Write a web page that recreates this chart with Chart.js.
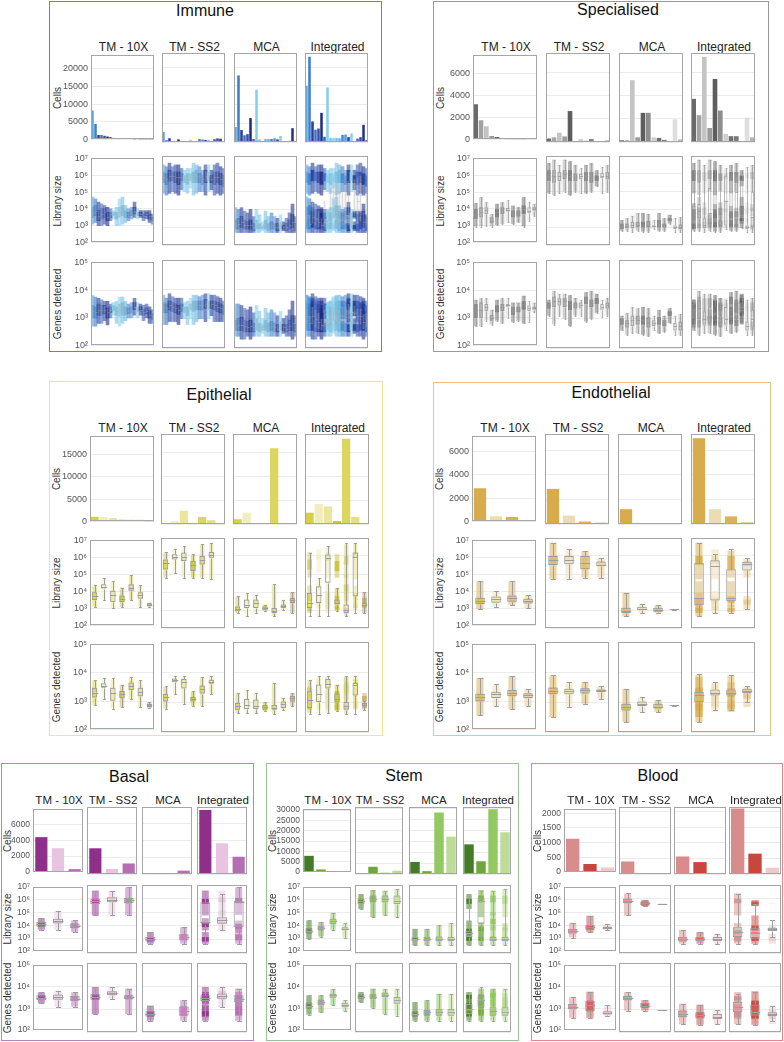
<!DOCTYPE html>
<html><head><meta charset="utf-8">
<script src="https://cdn.jsdelivr.net/npm/chart.js@4.4.1/dist/chart.umd.min.js"></script>
<style>
html,body{margin:0;padding:0;background:#fff;width:784px;height:1042px;overflow:hidden;font-family:"Liberation Sans",Arial,sans-serif;}
#root{position:relative;width:784px;height:1042px;}
.panel{position:absolute;box-sizing:border-box;border:1.5px solid #999;}
.t{position:absolute;white-space:nowrap;color:#111;transform:translate(-50%,-50%);line-height:1;}
.ax{position:absolute;white-space:nowrap;color:#333;transform:translate(-50%,-50%) rotate(-90deg);line-height:1;}
canvas{position:absolute;}
</style></head><body><div id="root"></div>
<script>
// ---------- shared labels ----------
const DATASET_NAMES = ['TM - 10X', 'TM - SS2', 'MCA', 'Integrated'];
const ROW_TITLES = ['Cells', 'Library size', 'Genes detected'];
const LIB_TICKS = [2,3,4,5,6,7];
const GENES_TICKS = [2,3,4,5];
const SUPERSCRIPT_LABELS = {2:'10²',3:'10³',4:'10⁴',5:'10⁵',6:'10⁶',7:'10⁷'};
// box stats are [min, q1, median, q3, max] as log10 values

// ---------- Immune ----------
const immune_colors = ['#63a6dc','#3b7fd0','#2c3e96','#4d6fc2','#3650aa','#202c84','#3c66bc','#85cfea','#7dc4e4','#92d3ee','#79bfe4','#6fb6e0','#4a84cc','#5c98d8','#2f3f97','#8dd2ec','#283a8e','#4063bb','#3550ac','#26348c','#4573c2'];
const immune_cells_ticks = [0,5000,10000,15000,20000];
const immune_cells_tm10x = [8200,4400,1300,1300,1100,900,700,500,350,300,300,300,300,300,50,50,30,30,30,30,20];
const immune_cells_tmss2 = [2700,500,1000,100,200,700,100,100,50,600,0,0,800,700,550,650,70,770,970,870,180];
const immune_cells_mca = [4000,17800,3200,1800,2100,6400,800,14000,700,200,800,800,800,1000,700,1600,100,100,300,3700,300];
const immune_cells_integrated = [15000,22800,5500,3300,3600,7800,1400,14600,1100,1100,1100,1000,1900,2000,1300,2300,200,900,1300,4600,500];
const immune_lib_tm10x = [[3.1,3.5,3.8,4.1,4.7],[3.2,3.6,3.9,4.2,4.6],[3.0,3.3,3.6,3.9,4.4],[3.0,3.4,3.7,4.0,4.3],[3.1,3.5,3.8,4.0,4.2],[3.0,3.3,3.5,3.8,4.1],[3.3,3.5,3.7,3.8,4.0],[3.4,3.6,3.7,3.8,3.9],[3.0,3.4,3.6,3.8,4.1],[3.0,3.5,3.8,4.1,4.6],[3.1,3.6,3.9,4.2,4.7],[3.2,3.5,3.7,3.9,4.2],[3.3,3.5,3.6,3.8,4.0],[3.4,3.6,3.8,3.9,4.1],[3.5,3.7,3.9,4.1,4.4],[3.4,3.6,3.7,3.8,4.0],[3.5,3.6,3.7,3.8,3.9],[3.3,3.5,3.6,3.7,3.9],[3.4,3.6,3.7,3.8,3.9],[3.2,3.4,3.6,3.7,3.9],[3.1,3.3,3.4,3.5,3.7]];
const immune_lib_tmss2 = [[4.9,5.5,5.8,6.1,6.5],[4.8,5.4,5.7,6.0,6.4],[4.9,5.6,5.9,6.2,6.6],[5.0,5.6,5.9,6.1,6.4],[4.9,5.5,5.8,6.1,6.5],[4.8,5.4,5.8,6.1,6.5],[5.1,5.6,5.8,6.0,6.3],[5.0,5.5,5.7,5.9,6.2],[4.9,5.4,5.7,6.0,6.3],[5.2,5.6,5.8,6.0,6.3],[4.8,5.5,5.8,6.1,6.6],[4.9,5.5,5.9,6.2,6.5],[5.0,5.5,5.8,6.0,6.4],[5.0,5.4,5.7,5.9,6.2],[4.8,5.5,5.9,6.2,6.5],[5.0,5.6,5.9,6.1,6.5],[5.1,5.5,5.7,5.9,6.2],[4.8,5.4,5.8,6.1,6.5],[4.9,5.5,5.8,6.1,6.6],[4.8,5.4,5.7,6.0,6.4],[4.9,5.3,5.6,5.9,6.3]];
const immune_lib_mca = [[2.7,2.9,3.1,3.4,4.1],[2.7,2.9,3.2,3.5,4.0],[2.7,3.0,3.3,3.6,4.1],[2.7,2.9,3.1,3.4,3.9],[2.7,2.9,3.1,3.3,3.8],[2.7,2.9,3.1,3.4,4.0],[2.7,2.8,3.0,3.2,3.6],[2.7,2.9,3.1,3.4,4.0],[2.7,2.9,3.0,3.2,3.7],[2.8,2.9,3.0,3.1,3.3],[2.7,2.9,3.1,3.4,3.9],[2.7,2.8,3.0,3.2,3.6],[2.7,2.9,3.1,3.3,3.8],[2.7,2.9,3.0,3.2,3.6],[2.7,2.8,3.0,3.2,3.5],[2.7,2.9,3.1,3.3,3.7],[2.8,2.9,3.0,3.1,3.3],[2.7,2.8,3.0,3.2,3.5],[2.7,2.9,3.1,3.4,3.8],[2.7,3.0,3.3,3.7,4.3],[2.7,2.8,3.0,3.2,3.6]];
const immune_lib_integrated = [[2.7,3.3,3.7,4.2,6.5],[2.7,3.0,3.2,3.7,6.4],[2.7,3.2,3.6,4.5,6.6],[2.7,3.1,3.5,4.2,6.4],[2.7,3.0,3.3,3.9,6.5],[2.7,2.9,3.1,3.5,6.5],[2.7,3.0,3.4,4.5,6.3],[2.7,2.9,3.1,3.4,6.2],[2.7,3.0,3.4,5.2,6.3],[2.8,3.5,5.0,5.8,6.3],[2.7,3.0,3.5,5.5,6.6],[2.7,3.0,3.4,5.0,6.5],[2.7,3.1,3.6,5.5,6.4],[2.7,3.2,3.7,5.3,6.2],[2.7,3.1,3.8,5.6,6.5],[2.7,3.0,3.3,3.8,6.5],[2.8,3.6,5.0,5.7,6.2],[2.7,3.2,4.5,5.8,6.5],[2.7,3.3,4.8,5.9,6.6],[2.7,3.0,3.3,3.8,6.4],[2.7,3.1,3.4,5.0,6.3]];
const immune_genes_tm10x = [[2.7,3.0,3.25,3.45,3.8],[2.7,3.0,3.2,3.4,3.75],[2.8,3.1,3.3,3.5,3.7],[2.8,3.1,3.3,3.45,3.65],[2.9,3.15,3.3,3.45,3.6],[2.75,3.0,3.2,3.35,3.6],[3.0,3.2,3.3,3.4,3.5],[3.1,3.25,3.35,3.45,3.55],[2.8,3.1,3.25,3.4,3.6],[2.7,3.05,3.3,3.5,3.75],[2.8,3.1,3.35,3.55,3.75],[2.9,3.1,3.25,3.4,3.6],[3.0,3.15,3.25,3.35,3.5],[3.0,3.2,3.3,3.4,3.55],[3.1,3.3,3.4,3.55,3.7],[3.0,3.2,3.3,3.4,3.55],[3.1,3.25,3.3,3.4,3.5],[2.9,3.1,3.2,3.3,3.45],[3.0,3.15,3.25,3.35,3.5],[2.8,3.0,3.1,3.25,3.4],[2.8,2.95,3.05,3.15,3.3]];
const immune_genes_tmss2 = [[2.8,3.2,3.4,3.55,3.8],[2.8,3.2,3.35,3.5,3.7],[2.9,3.3,3.45,3.6,3.85],[2.9,3.25,3.4,3.55,3.75],[2.9,3.2,3.35,3.5,3.7],[2.8,3.15,3.3,3.45,3.7],[3.0,3.25,3.4,3.5,3.7],[3.0,3.2,3.3,3.4,3.55],[2.8,3.1,3.25,3.4,3.6],[3.0,3.3,3.4,3.5,3.7],[2.8,3.25,3.45,3.6,3.8],[2.9,3.3,3.45,3.6,3.8],[3.0,3.3,3.45,3.6,3.75],[3.0,3.3,3.45,3.6,3.8],[2.9,3.35,3.5,3.65,3.85],[3.0,3.3,3.45,3.6,3.85],[3.1,3.35,3.5,3.6,3.8],[2.9,3.3,3.45,3.6,3.8],[2.9,3.25,3.4,3.55,3.75],[2.9,3.2,3.35,3.5,3.7],[2.9,3.15,3.3,3.45,3.6]];
const immune_genes_mca = [[2.4,2.6,2.75,2.95,3.5],[2.4,2.6,2.8,3.0,3.5],[2.3,2.6,2.8,3.05,3.45],[2.3,2.55,2.75,2.95,3.35],[2.4,2.55,2.7,2.9,3.3],[2.3,2.55,2.75,2.95,3.4],[2.4,2.55,2.7,2.85,3.2],[2.4,2.6,2.8,3.0,3.45],[2.4,2.55,2.7,2.85,3.25],[2.5,2.6,2.7,2.8,3.0],[2.4,2.6,2.75,2.95,3.35],[2.4,2.55,2.7,2.85,3.2],[2.4,2.6,2.75,2.9,3.3],[2.4,2.55,2.7,2.85,3.2],[2.4,2.55,2.65,2.8,3.1],[2.4,2.6,2.75,2.9,3.25],[2.5,2.6,2.7,2.8,3.0],[2.4,2.55,2.65,2.8,3.1],[2.4,2.6,2.75,2.95,3.3],[2.3,2.6,2.85,3.1,3.6],[2.4,2.55,2.65,2.8,3.1]];
const immune_genes_integrated = [[2.4,2.8,3.1,3.35,3.8],[2.4,2.65,2.85,3.1,3.75],[2.3,2.8,3.1,3.4,3.85],[2.3,2.7,3.0,3.3,3.75],[2.4,2.65,2.9,3.2,3.7],[2.3,2.6,2.8,3.0,3.7],[2.4,2.7,3.0,3.3,3.7],[2.4,2.65,2.8,3.0,3.55],[2.4,2.7,3.0,3.3,3.6],[2.5,2.9,3.2,3.4,3.7],[2.4,2.8,3.1,3.4,3.8],[2.4,2.75,3.0,3.3,3.8],[2.4,2.8,3.1,3.4,3.75],[2.4,2.85,3.15,3.4,3.8],[2.4,2.9,3.2,3.5,3.85],[2.4,2.7,2.9,3.2,3.85],[2.5,2.95,3.2,3.45,3.8],[2.4,2.8,3.1,3.35,3.8],[2.4,2.8,3.1,3.35,3.75],[2.3,2.65,2.9,3.15,3.7],[2.4,2.7,2.95,3.2,3.6]];

// ---------- Specialised ----------
const specialised_colors = ['#6a6a6a','#a3a3a3','#c4c4c4','#9c9c9c','#5e5e5e','#8e8e8e','#d0d0d0','#707070','#7c7c7c','#585858','#dedede','#b4b4b4'];
const specialised_cells_ticks = [0,2000,4000,6000];
const specialised_cells_tm10x = [3200,1750,1200,330,230,60,20,30,30,30,30,30];
const specialised_cells_tmss2 = [300,400,800,480,2650,50,250,100,250,20,100,150];
const specialised_cells_mca = [150,150,5300,400,2500,2500,400,350,180,20,1950,220];
const specialised_cells_integrated = [3700,2300,7300,1200,5400,2700,700,500,500,50,2100,400];
const specialised_lib_tm10x = [[2.95,3.4,3.7,4.0,4.35],[2.95,3.5,3.8,4.1,4.7],[3.0,3.7,3.95,4.1,4.4],[2.95,3.15,3.3,3.5,3.7],[3.05,3.5,3.8,4.0,4.3],[3.1,3.7,3.95,4.1,4.4],[3.2,3.85,3.95,4.05,4.5],[3.1,3.5,3.7,3.9,4.2],[3.2,3.55,3.75,3.9,4.1],[2.95,3.7,4.0,4.2,4.7],[3.3,3.75,3.9,4.1,4.4],[3.6,3.9,4.0,4.1,4.3]];
const specialised_lib_tmss2 = [[4.9,5.6,5.9,6.2,6.6],[4.8,5.5,5.9,6.2,6.8],[4.9,5.6,5.85,6.1,6.5],[5.0,5.7,6.0,6.2,6.8],[4.8,5.6,5.9,6.2,6.7],[5.0,5.6,5.8,6.0,6.5],[4.9,5.7,5.85,6.0,6.3],[4.9,5.6,5.9,6.1,6.5],[5.0,5.5,5.8,6.1,6.6],[5.3,5.6,5.75,5.9,6.2],[4.9,5.75,5.9,6.05,6.4],[5.0,5.7,5.9,6.1,6.5]];
const specialised_lib_mca = [[2.8,2.9,3.05,3.2,3.4],[2.8,2.95,3.05,3.2,3.5],[2.75,2.95,3.1,3.3,3.65],[2.8,3.0,3.15,3.3,3.8],[2.75,3.0,3.15,3.3,3.8],[2.75,3.0,3.15,3.35,3.75],[2.9,3.0,3.05,3.1,3.4],[2.8,3.0,3.2,3.4,3.8],[2.8,3.0,3.1,3.2,3.5],[3.2,3.35,3.45,3.5,3.7],[2.75,2.9,3.0,3.1,3.5],[2.75,2.9,3.0,3.15,3.55]];
const specialised_lib_integrated = [[2.8,3.4,3.8,4.2,6.6],[2.8,3.5,3.9,4.3,6.8],[2.75,2.95,3.15,3.5,6.5],[2.8,3.2,3.8,5.2,6.8],[2.75,3.1,3.4,5.6,6.7],[2.75,3.0,3.15,3.4,6.5],[2.9,3.1,4.5,5.9,6.3],[2.8,3.2,3.6,5.8,6.5],[2.8,3.4,5.0,5.9,6.6],[2.95,3.6,4.0,5.7,6.2],[2.75,2.9,3.0,3.1,6.4],[2.75,3.0,3.6,5.0,6.5]];
const specialised_genes_tm10x = [[2.7,3.0,3.3,3.5,3.65],[2.7,3.0,3.3,3.55,3.7],[2.9,3.25,3.4,3.5,3.7],[2.75,2.9,3.0,3.1,3.3],[2.9,3.2,3.35,3.45,3.65],[2.8,3.25,3.4,3.5,3.7],[3.0,3.4,3.45,3.5,3.7],[2.85,3.1,3.25,3.4,3.55],[2.9,3.2,3.3,3.4,3.55],[2.8,3.3,3.5,3.6,3.8],[2.85,3.25,3.35,3.45,3.6],[3.2,3.3,3.35,3.4,3.55]];
const specialised_genes_tmss2 = [[3.1,3.35,3.45,3.55,3.65],[2.8,3.4,3.6,3.75,3.95],[3.1,3.45,3.6,3.7,3.85],[3.0,3.4,3.6,3.7,3.85],[2.75,3.3,3.5,3.6,3.8],[3.1,3.35,3.45,3.55,3.7],[3.1,3.35,3.45,3.55,3.65],[2.9,3.5,3.65,3.75,3.9],[3.0,3.4,3.55,3.65,3.95],[3.2,3.5,3.6,3.7,3.85],[3.05,3.3,3.4,3.5,3.65],[3.1,3.35,3.45,3.55,3.7]];
const specialised_genes_mca = [[2.6,2.8,2.9,3.0,3.1],[2.45,2.7,2.85,2.95,3.2],[2.5,2.75,2.95,3.1,3.4],[2.5,2.8,2.95,3.1,3.35],[2.45,2.8,2.95,3.1,3.4],[2.4,2.7,2.9,3.05,3.35],[2.6,2.75,2.85,2.95,3.1],[2.5,2.8,2.95,3.05,3.3],[2.55,2.75,2.85,2.95,3.1],[2.85,3.1,3.2,3.25,3.35],[2.45,2.6,2.75,2.85,3.1],[2.45,2.6,2.75,2.9,3.15]];
const specialised_genes_integrated = [[2.6,3.0,3.3,3.5,3.65],[2.45,3.0,3.35,3.6,3.95],[2.5,2.8,3.0,3.25,3.85],[2.5,2.85,3.05,3.4,3.85],[2.45,2.9,3.2,3.45,3.8],[2.4,2.75,2.9,3.1,3.7],[2.6,2.8,3.0,3.4,3.65],[2.5,2.95,3.3,3.6,3.9],[2.55,3.0,3.35,3.55,3.95],[2.85,3.2,3.4,3.55,3.85],[2.45,2.6,2.75,2.9,3.65],[2.45,2.7,3.0,3.3,3.7]];

// ---------- Epithelial ----------
const epithelial_colors = ['#d6cf4a','#f1edbd','#ebe59e','#c8c034','#dcd560','#e4de84','#c9a868'];
const epithelial_cells_ticks = [0,5000,10000,15000];
const epithelial_cells_tm10x = [1100,1000,800,400,400,400,30];
const epithelial_cells_tmss2 = [100,600,2800,30,1500,800,0];
const epithelial_cells_mca = [1000,2400,0,200,16000,30,30];
const epithelial_cells_integrated = [2400,4200,3700,600,18000,1500,60];
const epithelial_lib_tm10x = [[3.1,3.5,3.73,3.95,4.36],[3.49,4.17,4.29,4.42,4.79],[3.02,3.39,3.8,4.04,4.6],[3.11,3.39,3.58,3.77,4.23],[3.49,4.04,4.23,4.42,4.98],[3.11,3.58,3.77,3.95,4.36],[3.1,3.15,3.2,3.3,3.35]];
const epithelial_lib_tmss2 = [[4.79,5.25,5.59,5.81,6.22],[5.07,5.81,5.96,6.1,6.37],[4.79,5.72,5.96,6.19,6.56],[4.79,5.16,5.48,5.72,6.09],[4.79,5.53,5.78,6.0,6.65],[4.7,5.9,6.06,6.22,6.74],null];
const epithelial_lib_mca = [[2.83,2.93,3.05,3.2,3.76],[2.65,3.11,3.3,3.58,3.95],[2.83,3.11,3.39,3.58,3.86],[2.95,3.02,3.11,3.2,3.3],[2.65,2.83,2.97,3.11,4.42],[3.0,3.11,3.2,3.3,3.58],[2.83,3.39,3.53,3.67,4.0]];
const epithelial_lib_integrated = [[2.65,3.11,3.39,3.95,6.19],[2.65,3.39,3.86,4.32,4.79],[2.65,4.51,5.9,6.09,6.56],[2.95,3.3,3.39,3.58,4.2],[2.65,2.83,3.02,3.3,6.74],[2.83,3.77,5.96,6.19,6.74],[2.83,3.2,3.3,3.39,4.0]];
const epithelial_genes_tm10x = [[2.86,3.13,3.28,3.47,3.74],[3.08,3.47,3.55,3.63,3.8],[2.74,3.02,3.28,3.47,3.8],[2.78,3.1,3.26,3.36,3.58],[3.08,3.39,3.52,3.66,3.86],[2.78,3.17,3.32,3.47,3.74],[2.75,2.8,2.85,2.9,2.97]];
const epithelial_genes_tmss2 = [[2.78,3.02,3.17,3.27,3.52],[3.27,3.66,3.72,3.78,3.86],[2.95,3.45,3.66,3.77,3.86],[2.86,3.02,3.1,3.17,3.36],[2.86,3.28,3.44,3.55,3.83],[3.28,3.61,3.68,3.74,3.86],null];
const epithelial_genes_mca = [[2.63,2.74,2.86,2.97,3.3],[2.63,2.77,2.9,3.1,3.41],[2.63,2.77,2.88,3.08,3.3],[2.7,2.74,2.83,2.9,3.0],[2.6,2.74,2.8,2.9,3.64],[2.75,2.8,2.92,3.02,3.15],[2.86,3.02,3.12,3.2,3.3]];
const epithelial_genes_integrated = [[2.6,2.8,3.06,3.36,3.74],[2.6,3.0,3.27,3.58,3.86],[2.63,3.45,3.61,3.77,3.86],[2.7,2.99,3.1,3.28,3.58],[2.6,2.74,2.86,3.0,3.86],[2.6,3.22,3.57,3.63,3.86],[2.75,2.88,2.9,2.97,3.05]];

// ---------- Endothelial ----------
const endothelial_colors = ['#d8ab4c','#ecdcb2','#dcb15c','#e6c98e'];
const endothelial_cells_ticks = [0,2000,4000,6000];
const endothelial_cells_tm10x = [2850,450,400,20];
const endothelial_cells_tmss2 = [2850,680,200,120];
const endothelial_cells_mca = [1200,20,20,5];
const endothelial_cells_integrated = [6950,1200,620,150];
const endothelial_lib_tm10x = [[2.97,3.27,3.45,3.64,4.6],[3.12,3.34,3.58,3.71,4.05],[3.21,3.4,3.64,3.77,4.6],[3.03,3.3,3.45,3.58,3.77]];
const endothelial_lib_tmss2 = [[4.7,5.5,5.78,6.0,6.74],[4.7,5.54,5.78,6.0,6.37],[4.8,5.26,5.59,6.0,6.28],[4.8,5.43,5.52,5.69,5.87]];
const endothelial_lib_mca = [[2.65,2.84,2.97,3.12,3.96],[2.84,3.0,3.08,3.18,3.35],[2.85,2.9,2.99,3.12,3.27],[3.02,3.03,3.03,3.03,3.04]];
const endothelial_lib_integrated = [[2.65,3.27,3.68,5.63,6.74],[2.84,3.53,5.44,5.76,6.1],[2.84,3.49,3.68,5.26,6.37],[3.03,5.2,5.54,5.68,5.91]];
const endothelial_genes_tm10x = [[2.5,3.0,3.14,3.26,3.83],[2.83,3.11,3.26,3.33,3.59],[2.72,3.17,3.3,3.39,3.89],[2.83,3.11,3.22,3.28,3.44]];
const endothelial_genes_tmss2 = [[2.5,3.26,3.37,3.48,3.89],[2.83,3.26,3.36,3.44,3.66],[2.94,3.28,3.39,3.46,3.66],[3.11,3.33,3.39,3.42,3.52]];
const endothelial_genes_mca = [[2.33,2.72,2.83,2.94,3.44],[2.67,2.87,2.94,3.02,3.17],[2.67,2.78,2.83,2.94,3.06],[2.88,2.89,2.89,2.89,2.9]];
const endothelial_genes_integrated = [[2.33,3.0,3.22,3.33,3.94],[2.72,3.22,3.3,3.42,3.66],[2.72,3.22,3.3,3.42,3.89],[3.0,3.3,3.36,3.44,3.55]];

// ---------- Basal ----------
const basal_colors = ['#8e3089','#e8c4e2','#b56db3'];
const basal_cells_ticks = [0,2000,4000,6000];
const basal_cells_tm10x = [4400,3000,350];
const basal_cells_tmss2 = [3050,600,1250];
const basal_cells_mca = [20,0,400];
const basal_cells_integrated = [7600,3650,2050];
const basal_lib_tm10x = [[3.66,3.9,4.1,4.27,4.56],[3.66,4.15,4.32,4.51,5.12],[3.49,3.78,3.98,4.15,4.39]];
const basal_lib_tmss2 = [[4.76,5.61,5.8,5.98,6.59],[4.8,5.73,5.9,6.1,6.59],[4.8,5.66,5.9,6.05,6.83]];
const basal_lib_mca = [[2.68,2.85,3.0,3.17,3.54],null,[2.68,2.93,3.17,3.37,3.9]];
const basal_lib_integrated = [[2.68,4.15,4.27,5.73,6.59],[3.66,4.15,4.39,4.63,6.34],[2.68,3.9,5.73,5.85,6.83]];
const basal_genes_tm10x = [[3.23,3.38,3.48,3.6,3.74],[3.08,3.4,3.52,3.64,3.82],[3.08,3.35,3.45,3.57,3.74]];
const basal_genes_tmss2 = [[2.78,3.4,3.52,3.64,3.96],[3.45,3.6,3.69,3.77,3.96],[2.78,3.42,3.53,3.6,3.89]];
const basal_genes_mca = [[2.49,2.67,2.78,2.9,3.15],null,[2.49,2.71,2.9,3.11,3.38]];
const basal_genes_integrated = [[2.49,3.35,3.48,3.6,3.96],[3.08,3.45,3.56,3.67,3.96],[2.49,3.3,3.45,3.6,3.89]];

// ---------- Stem ----------
const stem_colors = ['#437b26','#6ea83c','#93c962','#bcdc98'];
const stem_cells_ticks = [0,5000,10000,15000,20000,25000,30000];
const stem_cells_tm10x = [7800,1200,300,250];
const stem_cells_tmss2 = [150,3300,600,1500];
const stem_cells_mca = [5500,1300,28000,17000];
const stem_cells_integrated = [13500,5800,29500,19000];
const stem_lib_tm10x = [[2.93,3.37,3.54,3.78,4.39],[3.12,3.61,3.78,3.95,4.27],[3.66,4.1,4.32,4.51,5.0],[3.05,3.61,3.71,3.85,4.15]];
const stem_lib_tmss2 = [[5.24,5.61,5.8,5.98,6.34],[4.63,5.73,5.98,6.22,6.63],[4.76,5.73,5.98,6.22,6.59],[4.63,5.61,5.85,6.22,6.71]];
const stem_lib_mca = [[2.56,2.88,3.0,3.17,3.78],[2.56,2.88,3.0,3.17,3.78],[2.56,2.88,3.05,3.22,4.03],[2.56,2.88,3.0,3.17,4.2]];
const stem_lib_integrated = [[2.56,3.17,3.46,3.66,6.22],[2.56,4.15,5.85,6.1,6.59],[2.56,2.88,3.05,3.17,6.59],[2.56,2.88,3.0,3.17,6.71]];
const stem_genes_tm10x = [[2.71,3.0,3.12,3.26,3.6],[2.81,3.15,3.3,3.4,3.6],[3.15,3.49,3.6,3.67,3.89],[2.86,3.05,3.15,3.26,3.38]];
const stem_genes_tmss2 = [[3.3,3.45,3.53,3.63,3.74],[3.05,3.45,3.53,3.64,3.89],[2.78,3.52,3.6,3.71,3.86],[2.71,3.23,3.38,3.52,3.89]];
const stem_genes_mca = [[2.49,2.67,2.78,2.9,3.3],[2.49,2.71,2.86,2.96,3.38],[2.49,2.71,2.86,3.0,3.67],[2.49,2.71,2.86,3.0,3.67]];
const stem_genes_integrated = [[2.49,2.78,3.0,3.23,3.67],[2.49,3.08,3.38,3.6,3.96],[2.49,2.71,2.93,3.08,3.89],[2.49,2.71,2.86,3.08,3.89]];

// ---------- Blood ----------
const blood_colors = ['#d98c8c','#c9463f','#eec9c9'];
const blood_cells_ticks = [0,500,1000,1500,2000];
const blood_cells_tm10x = [1130,270,150];
const blood_cells_tmss2 = [400,0,0];
const blood_cells_mca = [560,380,30];
const blood_cells_integrated = [2090,650,200];
const blood_lib_tm10x = [[3.05,3.37,3.54,3.71,4.2],[3.46,3.66,3.85,4.02,4.76],[3.61,3.76,3.83,3.9,4.07]];
const blood_lib_tmss2 = [[4.76,5.66,5.85,5.98,6.39],[5.44,5.49,5.66,5.78,5.9],[5.6,5.61,5.61,5.62,5.63]];
const blood_lib_mca = [[2.68,2.85,3.0,3.17,3.71],[2.68,2.88,3.02,3.17,3.54],[2.68,2.88,3.05,3.17,3.41]];
const blood_lib_integrated = [[2.68,3.17,3.54,3.9,6.34],[2.68,3.05,3.49,3.85,5.61],[3.17,3.61,3.78,3.85,4.39]];
const blood_genes_tm10x = [[2.56,2.96,3.08,3.2,3.52],[2.56,2.86,3.15,3.35,3.77],[2.64,2.71,2.78,2.86,3.15]];
const blood_genes_tmss2 = [[2.93,3.38,3.48,3.57,3.74],[2.93,3.05,3.15,3.26,3.38],[2.95,2.96,2.96,2.96,2.97]];
const blood_genes_mca = [[2.34,2.64,2.78,2.93,3.23],[2.31,2.6,2.75,2.86,3.19],[2.34,2.56,2.67,2.78,2.96]];
const blood_genes_integrated = [[2.34,2.86,3.08,3.3,3.67],[2.31,2.71,2.89,3.2,3.74],[2.49,2.7,2.78,2.86,3.15]];

// ---------- layout (positions & styles only) ----------
const TOP_ROWS_A = [[53,89],[156,89],[260,88]];
const TOP_ROWS_B = [[434,90],[538,90],[642,90]];
const BOT_ROWS = [[807,67],[885,68],[963,69]];
const groups = [
 {name:'Immune', border:'#7f78b6', box:[49,1,333,351], title:[205,11,16], cols:[91,162,234,305], colW:63, rows:TOP_ROWS_A, colTitleY:47, colFont:12, axX:58, axFont:10, tickFont:9, labelW:36,
  colors:immune_colors, cellsTicks:immune_cells_ticks, cells:[immune_cells_tm10x,immune_cells_tmss2,immune_cells_mca,immune_cells_integrated],
  lib:[immune_lib_tm10x,immune_lib_tmss2,immune_lib_mca,immune_lib_integrated], genes:[immune_genes_tm10x,immune_genes_tmss2,immune_genes_mca,immune_genes_integrated],
  cellsMax:23800, barPct:0.85, cloudPct:1.0, boxPct:0.7, cloudA:0.6, coreA:0.85, boxLine:'rgba(170,170,170,0.45)', whisk:false},
 {name:'Specialised', border:'#9a9a9a', box:[433,1,336,351], title:[618,10,16], cols:[473,546,619,691], colW:64, rows:TOP_ROWS_A, colTitleY:47, colFont:12, axX:441, axFont:10, tickFont:9, labelW:36,
  colors:specialised_colors, cellsTicks:specialised_cells_ticks, cells:[specialised_cells_tm10x,specialised_cells_tmss2,specialised_cells_mca,specialised_cells_integrated],
  lib:[specialised_lib_tm10x,specialised_lib_tmss2,specialised_lib_mca,specialised_lib_integrated], genes:[specialised_genes_tm10x,specialised_genes_tmss2,specialised_genes_mca,specialised_genes_integrated],
  cellsMax:7630, barPct:0.87, cloudPct:0.75, boxPct:0.65, cloudA:0.45, coreA:0.7, boxLine:'rgba(150,150,150,0.7)', whisk:true},
 {name:'Epithelial', border:'#ede78e', box:[49,381,334,355], title:[219,395,16], cols:[90,161,233,305], colW:64, rows:TOP_ROWS_B, colTitleY:428, colFont:12, axX:57, axFont:10, tickFont:9, labelW:36,
  colors:epithelial_colors, cellsTicks:epithelial_cells_ticks, cells:[epithelial_cells_tm10x,epithelial_cells_tmss2,epithelial_cells_mca,epithelial_cells_integrated],
  lib:[epithelial_lib_tm10x,epithelial_lib_tmss2,epithelial_lib_mca,epithelial_lib_integrated], genes:[epithelial_genes_tm10x,epithelial_genes_tmss2,epithelial_genes_mca,epithelial_genes_integrated],
  cellsMax:19000, barPct:0.9, cloudPct:0.5, boxPct:0.6, cloudA:0.5, coreA:0.85, boxLine:'#9d9d9d', whisk:true},
 {name:'Endothelial', border:'#efc282', box:[433,382,338,354], title:[611,393,16], cols:[472,545,618,691], colW:64, rows:TOP_ROWS_B, colTitleY:428, colFont:12, axX:440, axFont:10, tickFont:9, labelW:36,
  colors:endothelial_colors, cellsTicks:endothelial_cells_ticks, cells:[endothelial_cells_tm10x,endothelial_cells_tmss2,endothelial_cells_mca,endothelial_cells_integrated],
  lib:[endothelial_lib_tm10x,endothelial_lib_tmss2,endothelial_lib_mca,endothelial_lib_integrated], genes:[endothelial_genes_tm10x,endothelial_genes_tmss2,endothelial_genes_mca,endothelial_genes_integrated],
  cellsMax:7300, barPct:0.77, cloudPct:0.45, boxPct:0.6, cloudA:0.5, coreA:0.8, boxLine:'#9d9d9d', whisk:true},
 {name:'Basal', border:'#b784c2', box:[1,763,253,278], title:[129,777,16], cols:[33,87,142,197], colW:50, rows:BOT_ROWS, colTitleY:801, colFont:11.5, axX:8, axFont:10, tickFont:8.5, labelW:30,
  colors:basal_colors, cellsTicks:basal_cells_ticks, cells:[basal_cells_tm10x,basal_cells_tmss2,basal_cells_mca,basal_cells_integrated],
  lib:[basal_lib_tm10x,basal_lib_tmss2,basal_lib_mca,basal_lib_integrated], genes:[basal_genes_tm10x,basal_genes_tmss2,basal_genes_mca,basal_genes_integrated],
  cellsMax:7950, barPct:0.73, cloudPct:0.42, boxPct:0.6, cloudA:0.5, coreA:0.85, boxLine:'#9d9d9d', whisk:true},
 {name:'Stem', border:'#95c592', box:[266,763,253,278], title:[404,776,16], cols:[303,355,409,463], colW:48, rows:BOT_ROWS, colTitleY:801, colFont:11.5, axX:273, axFont:10, tickFont:8.5, labelW:30,
  colors:stem_colors, cellsTicks:stem_cells_ticks, cells:[stem_cells_tm10x,stem_cells_tmss2,stem_cells_mca,stem_cells_integrated],
  lib:[stem_lib_tm10x,stem_lib_tmss2,stem_lib_mca,stem_lib_integrated], genes:[stem_genes_tm10x,stem_genes_tmss2,stem_genes_mca,stem_genes_integrated],
  cellsMax:30500, barPct:0.79, cloudPct:0.45, boxPct:0.6, cloudA:0.55, coreA:0.85, boxLine:'#a5a5a5', whisk:true},
 {name:'Blood', border:'#e2878a', box:[531,763,252,278], title:[658,776,16], cols:[564,619,674,729], colW:52, rows:BOT_ROWS, colTitleY:801, colFont:11.5, axX:538, axFont:10, tickFont:8.5, labelW:30,
  colors:blood_colors, cellsTicks:blood_cells_ticks, cells:[blood_cells_tm10x,blood_cells_tmss2,blood_cells_mca,blood_cells_integrated],
  lib:[blood_lib_tm10x,blood_lib_tmss2,blood_lib_mca,blood_lib_integrated], genes:[blood_genes_tm10x,blood_genes_tmss2,blood_genes_mca,blood_genes_integrated],
  cellsMax:2140, barPct:0.77, cloudPct:0.42, boxPct:0.55, cloudA:0.5, coreA:0.85, boxLine:'#9d9d9d', whisk:true}
];

// ---------- helpers ----------
Chart.defaults.font.family = '"Liberation Sans", Arial, sans-serif';
function rgba(hex, a){const n=parseInt(hex.slice(1),16);return 'rgba('+((n>>16)&255)+','+((n>>8)&255)+','+(n&255)+','+a+')';}
const root = document.getElementById('root');
function addText(cls, txt, x, y, size, color){const d=document.createElement('div');d.className=cls;d.textContent=txt;d.style.left=x+'px';d.style.top=y+'px';d.style.fontSize=size+'px';if(color)d.style.color=color;root.appendChild(d);return d;}

const framePlugin = {id:'frame', afterDraw(chart){const a=chart.chartArea,c=chart.ctx;c.save();c.strokeStyle='#a6a6a6';c.lineWidth=1;c.strokeRect(Math.round(a.left)+0.5,Math.round(a.top)+0.5,Math.round(a.right-a.left)-1,Math.round(a.bottom-a.top)-1);c.restore();}};
const boxPlugin = {id:'boxdeco', afterDatasetsDraw(chart){
  const o=chart.options.plugins.boxdeco; if(!o||!o.stats) return;
  const meta=chart.getDatasetMeta(0), ys=chart.scales.y, c=chart.ctx;
  c.save(); c.strokeStyle=o.line; c.lineWidth=1;
  o.stats.forEach((s,i)=>{ if(!s) return; const el=meta.data[i]; if(!el) return;
    const x=Math.round(el.x)+0.5, w=el.width, py=v=>Math.round(ys.getPixelForValue(v))+0.5;
    if(o.whisk){
      c.beginPath();
      c.moveTo(x,py(s[0]));c.lineTo(x,py(s[1]));c.moveTo(x,py(s[3]));c.lineTo(x,py(s[4]));
      c.moveTo(x-w*0.25,py(s[0]));c.lineTo(x+w*0.25,py(s[0]));c.moveTo(x-w*0.25,py(s[4]));c.lineTo(x+w*0.25,py(s[4]));
      c.stroke();
    }
    c.beginPath();c.moveTo(x-w/2,py(s[2]));c.lineTo(x+w/2,py(s[2]));c.stroke();
  });
  c.restore();
}};

function makeChart(g, r, col){
  const [rowTop,rowH]=g.rows[r];
  const lw = col===0 ? g.labelW : 0;
  const cv=document.createElement('canvas');
  const W=g.colW+lw, H=rowH+12;
  cv.width=W; cv.height=H; cv.style.left=(g.cols[col]-lw)+'px'; cv.style.top=(rowTop-6)+'px';
  cv.style.width=W+'px'; cv.style.height=H+'px';
  root.appendChild(cv);
  const labels=g.colors.map((_,i)=>String(i+1));
  let datasets, ymin, ymax, tickVals, fmt, stats=null;
  if(r===0){
    datasets=[{data:g.cells[col], backgroundColor:g.colors, borderWidth:0, barPercentage:g.barPct, categoryPercentage:1}];
    ymin=0; ymax=g.cellsMax; tickVals=g.cellsTicks; fmt=v=>String(v);
  } else {
    const src = r===1 ? g.lib : g.genes;
    stats = src[col];
    datasets=[{data:stats.map(s=>s?[s[1],s[3]]:null), backgroundColor:'rgba(255,255,255,0.1)', borderColor:g.boxLine, borderWidth:1, borderSkipped:false, barPercentage:g.boxPct, categoryPercentage:1, order:0}];
    const ks = col<3 ? [col] : [0,1,2];
    ks.forEach(k=>{
      datasets.push({data:src[k].map(s=>s?[s[1],s[3]]:null), backgroundColor:g.colors.map(h=>rgba(h,g.coreA)), borderWidth:0, barPercentage:g.cloudPct, categoryPercentage:1, order:1});
      datasets.push({data:src[k].map(s=>s?[s[0],s[4]]:null), backgroundColor:g.colors.map(h=>rgba(h,g.cloudA)), borderWidth:0, barPercentage:g.cloudPct, categoryPercentage:1, order:2});
    });
    ymin=2; ymax=r===1?7:5; tickVals=r===1?LIB_TICKS:GENES_TICKS; fmt=v=>SUPERSCRIPT_LABELS[v]||'';
  }
  new Chart(cv,{type:'bar',data:{labels,datasets},options:{
    responsive:false, animation:false, devicePixelRatio:1,
    layout:{autoPadding:false,padding:{top:6,bottom:6,left:0,right:0}},
    datasets:{bar:{grouped:false}},
    plugins:{legend:{display:false},tooltip:{enabled:false},boxdeco:{stats,line:g.boxLine,whisk:g.whisk}},
    scales:{
      x:{display:false,offset:true,grid:{display:false}},
      y:{min:ymin,max:ymax,afterFit:s=>{s.width=lw;},afterBuildTicks:s=>{s.ticks=tickVals.map(v=>({value:v}));},border:{display:false},
         grid:{color:'#ececec',drawTicks:false},
         ticks:{display:col===0,autoSkip:false,padding:3,color:'#555',font:{size:g.tickFont},callback:fmt}}
    }},plugins:[framePlugin,boxPlugin]});
}

groups.forEach(g=>{
  const p=document.createElement('div');p.className='panel';
  p.style.left=g.box[0]+'px';p.style.top=g.box[1]+'px';p.style.width=g.box[2]+'px';p.style.height=g.box[3]+'px';p.style.borderColor=g.border;
  root.appendChild(p);
  addText('t',g.name,g.title[0],g.title[1],g.title[2],'#111');
  DATASET_NAMES.forEach((n,i)=>addText('t',n,g.cols[i]+g.colW/2+1,g.colTitleY,g.colFont,'#222'));
  ROW_TITLES.forEach((n,r)=>addText('ax',n,g.axX,g.rows[r][0]+g.rows[r][1]/2,g.axFont,'#333'));
  for(let r=0;r<3;r++) for(let c=0;c<4;c++) makeChart(g,r,c);
});
</script></body></html>
